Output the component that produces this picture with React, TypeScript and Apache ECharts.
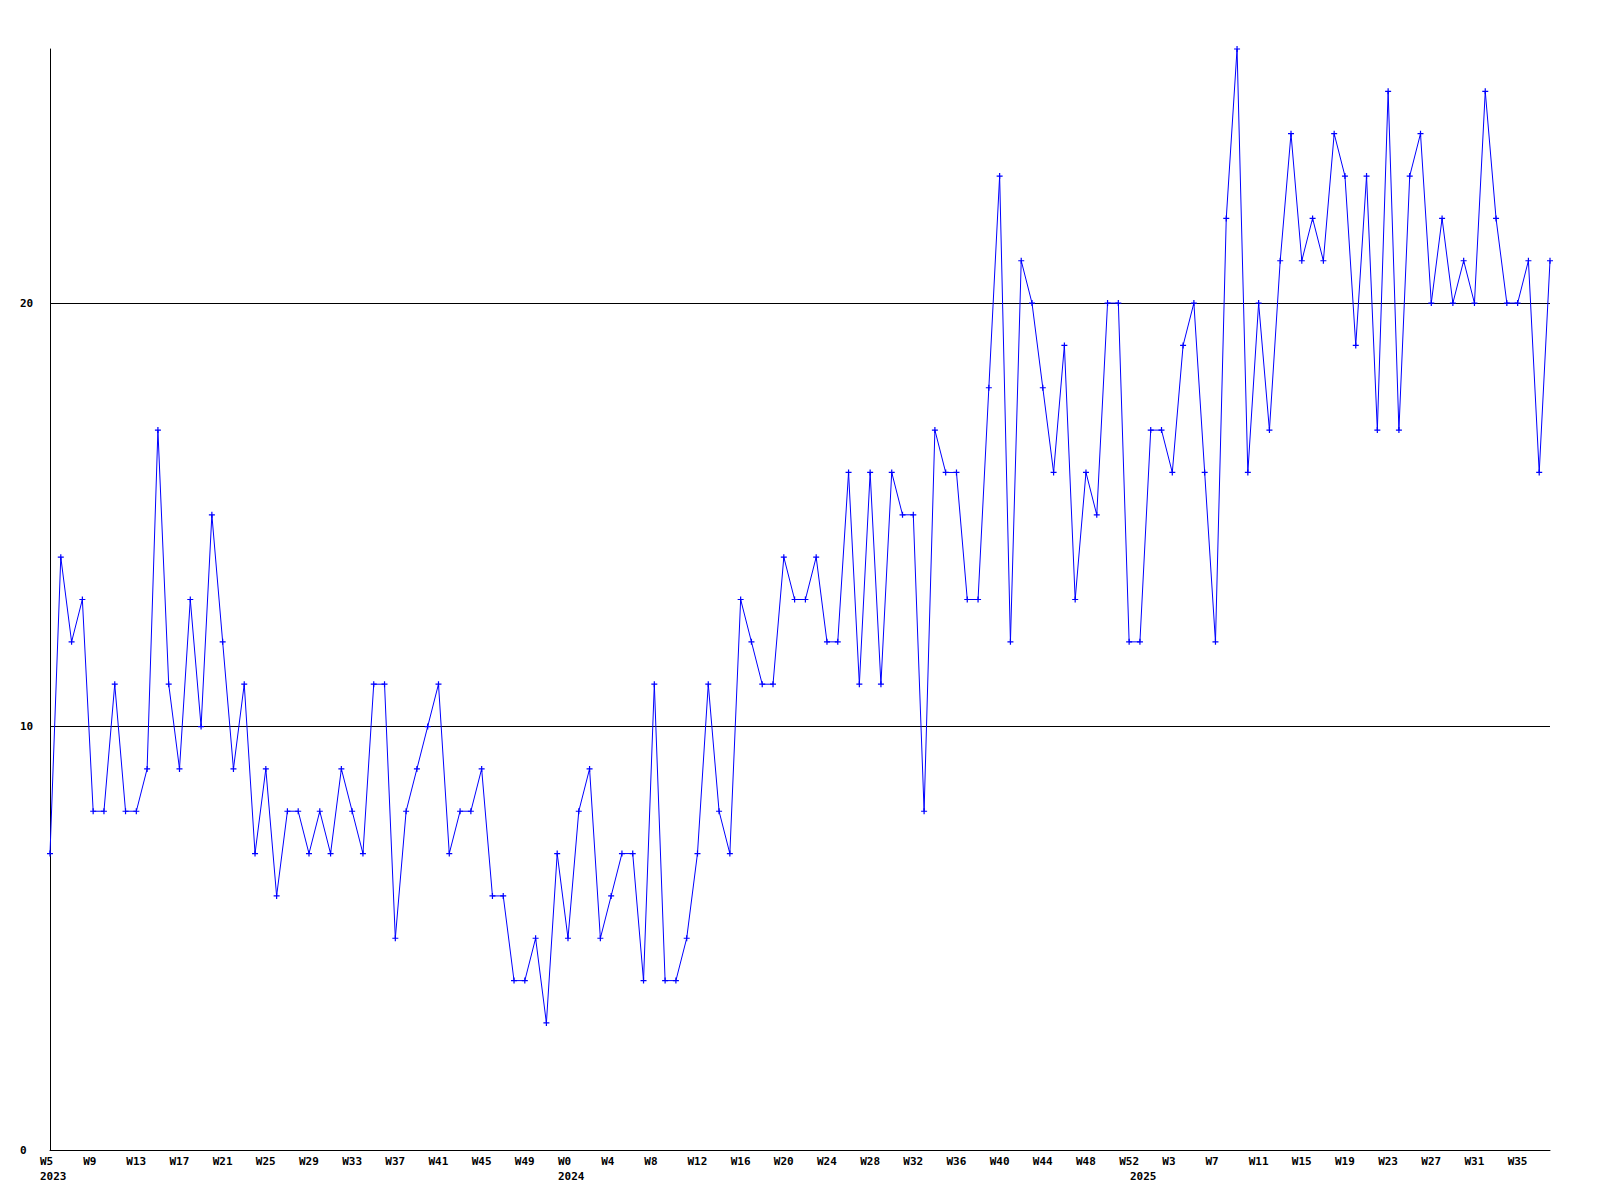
import React, { useEffect, useRef } from "react";
import * as echarts from "echarts";

// Weekly values
const year2023 = 2023;
const startWeek2023 = 5;
const values2023 = [
  7, 14, 12, 13, 8, 8, 11, 8, 8, 9,
  17, 11, 9, 13, 10, 15, 12, 9, 11, 7,
  9, 6, 8, 8, 7, 8, 7, 9, 8, 7,
  11, 11, 5, 8, 9, 10, 11, 7, 8, 8,
  9, 6, 6, 4, 4, 5, 3, 7,
];

const year2024 = 2024;
const startWeek2024 = 0;
const values2024 = [
  5, 8, 9, 5, 6, 7, 7, 4, 11, 4,
  4, 5, 7, 11, 8, 7, 13, 12, 11, 11,
  14, 13, 13, 14, 12, 12, 16, 11, 16, 11,
  16, 15, 15, 8, 17, 16, 16, 13, 13, 18,
  23, 12, 21, 20, 18, 16, 19, 13, 16, 15,
  20, 20, 12,
];

const year2025 = 2025;
const startWeek2025 = 0;
const values2025 = [
  12, 17, 17, 16, 19, 20, 16, 12, 22, 26,
  16, 20, 17, 21, 24, 21, 22, 21, 24, 23,
  19, 23, 17, 25, 17, 23, 24, 20, 22, 20,
  21, 20, 25, 22, 20, 20, 21, 16, 21,
];

const yTicks = { min: 0, max: 26, interval: 10 };
const labelEvery = 4;

const blocks = [
  { year: year2023, start: startWeek2023, values: values2023 },
  { year: year2024, start: startWeek2024, values: values2024 },
  { year: year2025, start: startWeek2025, values: values2025 },
];

const categories: string[] = [];
const weekNums: number[] = [];
const yearAt: Record<number, number> = {};
const data: number[] = [];
blocks.forEach((b) => {
  yearAt[categories.length] = b.year;
  b.values.forEach((v, i) => {
    categories.push(`${b.year}-W${b.start + i}`);
    weekNums.push(b.start + i);
    data.push(v);
  });
});

const FONT = "'DejaVu Sans Mono', monospace";

export default function App() {
  const ref = useRef<HTMLDivElement>(null);
  useEffect(() => {
    if (!ref.current) return;
    const chart = echarts.init(ref.current, undefined, { renderer: "svg" });
    chart.setOption({
      animation: false,
      backgroundColor: "#ffffff",
      grid: { left: 50, right: 50, top: 49, bottom: 50, containLabel: false },
      xAxis: {
        type: "category",
        data: categories,
        boundaryGap: false,
        axisLine: { show: true, lineStyle: { color: "#000", width: 1 } },
        axisTick: { show: false },
        splitLine: { show: false },
        axisLabel: {
          interval: (index: number) =>
            index % labelEvery === 0 || yearAt[index] !== undefined,
          margin: 4,
          color: "#000",
          formatter: (_v: string, index: number) => {
            const showWeek = index % labelEvery === 0;
            const wk = showWeek ? `{a|W${weekNums[index]}}` : "{a| }";
            const yr = yearAt[index] !== undefined ? `\n{a|${yearAt[index]}}` : "";
            return wk + yr;
          },
          rich: {
            a: {
              width: 20,
              align: "left",
              fontSize: 11,
              fontWeight: "bold",
              fontFamily: FONT,
              lineHeight: 15,
              color: "#000",
            },
          },
        },
      },
      yAxis: {
        type: "value",
        min: yTicks.min,
        max: yTicks.max,
        interval: yTicks.interval,
        axisLine: { show: true, lineStyle: { color: "#000", width: 1 } },
        axisTick: { show: false },
        splitLine: {
          show: true,
          showMaxLine: false,
          lineStyle: { color: "#000", width: 1 },
        },
        axisLabel: {
          showMaxLabel: false,
          align: "left",
          margin: 30,
          fontSize: 11,
          fontWeight: "bold",
          fontFamily: FONT,
          color: "#000",
        },
      },
      series: [
        {
          type: "line",
          data: data,
          symbol: "path://M2,0H3V2H5V3H3V5H2V3H0V2H2Z",
          symbolSize: 6,
          showSymbol: true,
          lineStyle: { color: "#0000ff", width: 1 },
          itemStyle: { color: "#0000ff" },
          clip: false,
        },
      ],
    });
    return () => chart.dispose();
  }, []);
  return (
    <div
      ref={ref}
      style={{ position: "fixed", left: 0, top: 0, width: 1600, height: 1200, background: "#fff" }}
    />
  );
}
